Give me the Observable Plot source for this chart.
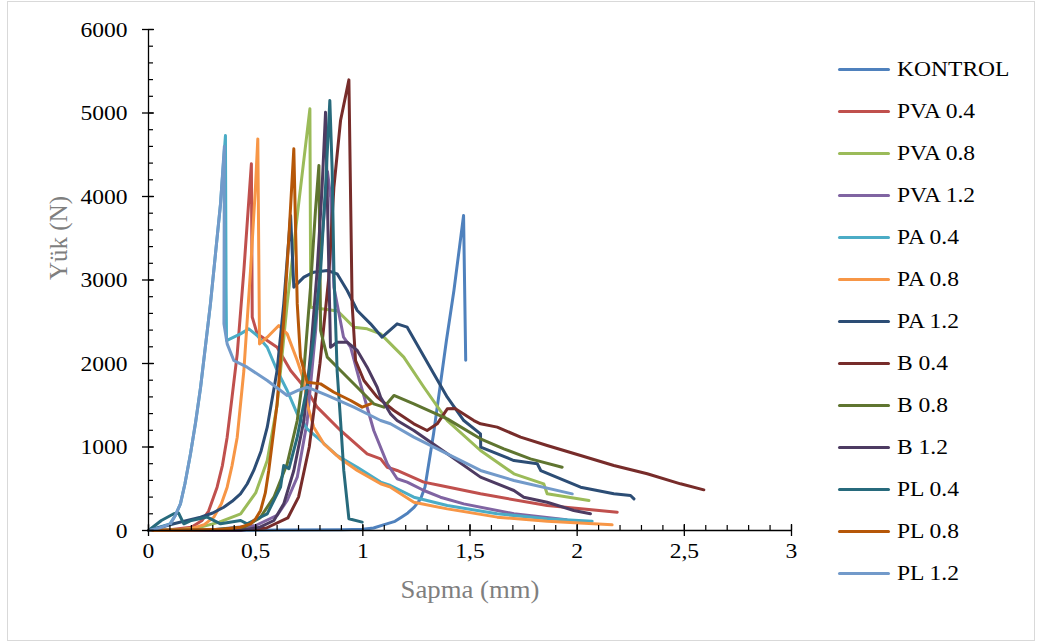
<!DOCTYPE html>
<html>
<head>
<meta charset="utf-8">
<script src="https://cdn.jsdelivr.net/npm/d3@7"></script>
<script src="https://cdn.jsdelivr.net/npm/@observablehq/plot@0.6"></script>
<style>
  body { margin: 0; background: #fff; }
  #wrap { position: relative; width: 1041px; height: 644px; overflow: hidden; }
  #frame { position: absolute; left: 7px; top: 1px; width: 1028px; height: 640px; border: 1px solid #D9D9D9; box-sizing: border-box; }
  #chart { position: absolute; left: 0; top: 0; }
  .leg { position: absolute; left: 838px; height: 26px; display: flex; align-items: center; font-family: "Liberation Serif", "Times New Roman", serif; font-size: 22px; color: #000; white-space: nowrap; }
  .leg .sw { display: inline-block; width: 52px; height: 3px; border-radius: 1.5px; }
  .leg .tx { display: inline-block; margin-left: 7px; transform: scaleX(1.07); transform-origin: left center; }
</style>
</head>
<body>
<div id="wrap"><div id="frame"></div><div id="chart"></div></div>
<script>
// ---- data (Sapma mm, Yük N) ----
const seriesNames = ["KONTROL","PVA 0.4","PVA 0.8","PVA 1.2","PA 0.4","PA 0.8","PA 1.2","B 0.4","B 0.8","B 1.2","PL 0.4","PL 0.8","PL 1.2"];
const seriesColors = ["#4F81BD","#C0504D","#9BBB59","#8064A2","#4BACC6","#F79646","#2C4D75","#772C2A","#5F7530","#4D3B62","#276A7C","#B65708","#729ACA"];

const kontrol = [[0,0],[0.3,0],[0.6,5],[0.9,10],[1.0,15],[1.05,30],[1.1,70],[1.15,110],[1.18,160],[1.21,210],[1.24,280],[1.27,380],[1.29,520],[1.30,680],[1.33,1160],[1.36,1716],[1.39,2275],[1.425,2874],[1.47,3772],[1.48,2040]];
const pva04 = [[0,0],[0.1,10],[0.2,40],[0.25,120],[0.28,230],[0.32,519],[0.345,780],[0.367,1118],[0.39,1600],[0.414,2116],[0.445,3114],[0.48,4391],[0.484,2555],[0.507,2355],[0.6,2195],[0.663,1916],[0.74,1677],[0.787,1477],[0.896,1198],[1.02,918],[1.083,858],[1.114,758],[1.16,719],[1.284,579],[1.362,539],[1.549,439],[1.86,299],[2.187,219]];
const pva08 = [[0,0],[0.15,10],[0.243,40],[0.33,100],[0.43,200],[0.5,450],[0.554,838],[0.6,1500],[0.647,2714],[0.7,3900],[0.753,5050],[0.757,2674],[0.865,2635],[0.88,2635],[0.958,2435],[1.02,2415],[1.083,2355],[1.191,2076],[1.285,1716],[1.394,1317],[1.549,958],[1.705,679],[1.844,559],[1.86,439],[2.055,359]];
const pva12 = [[0,0],[0.3,10],[0.5,60],[0.6,180],[0.647,359],[0.694,639],[0.74,1300],[0.78,2400],[0.81,3500],[0.835,4300],[0.85,3990],[0.865,2914],[0.91,2315],[0.943,2195],[0.989,1756],[1.051,1198],[1.114,799],[1.16,620],[1.207,580],[1.285,479],[1.362,399],[1.471,319],[1.705,200],[1.95,130]];
const pa04 = [[0,0],[0.05,40],[0.1,80],[0.125,180],[0.149,319],[0.17,560],[0.196,918],[0.22,1300],[0.243,1716],[0.289,2714],[0.336,3912],[0.359,4730],[0.362,2900],[0.364,2275],[0.429,2355],[0.468,2415],[0.507,2335],[0.554,2195],[0.6,1916],[0.647,1677],[0.694,1397],[0.74,1218],[0.803,1078],[0.88,898],[0.974,758],[1.083,580],[1.129,539],[1.238,399],[1.394,299],[1.627,200],[1.86,140],[2.07,112]];
const pa08 = [[0,0],[0.1,5],[0.196,20],[0.26,70],[0.305,160],[0.34,320],[0.367,519],[0.39,780],[0.414,1118],[0.445,1916],[0.476,3114],[0.499,4111],[0.51,4690],[0.518,2235],[0.554,2315],[0.608,2455],[0.647,2355],[0.694,2036],[0.725,1796],[0.74,1517],[0.771,1237],[0.818,1038],[0.896,858],[0.974,719],[1.083,560],[1.129,519],[1.238,339],[1.394,259],[1.627,160],[1.86,112],[2.163,68]];
const pa12 = [[0,0],[0.118,80],[0.243,160],[0.3,210],[0.351,279],[0.39,350],[0.429,439],[0.461,560],[0.491,719],[0.525,950],[0.554,1237],[0.6,1916],[0.631,2714],[0.663,3772],[0.678,2914],[0.725,3034],[0.771,3094],[0.834,3114],[0.88,3074],[0.927,2874],[0.974,2635],[1.036,2475],[1.09,2315],[1.16,2475],[1.207,2435],[1.269,2156],[1.331,1876],[1.394,1597],[1.471,1317],[1.549,1158],[1.55,998],[1.705,838],[1.814,799],[1.83,718],[2.016,519],[2.171,439],[2.249,419],[2.265,379]];
const b04 = [[0,0],[0.4,5],[0.55,30],[0.65,150],[0.7,400],[0.75,1000],[0.8,2000],[0.84,3000],[0.865,4111],[0.896,4910],[0.935,5397],[0.95,2714],[0.966,2036],[1.005,1796],[1.067,1597],[1.145,1437],[1.238,1278],[1.3,1198],[1.347,1278],[1.394,1457],[1.43,1460],[1.518,1317],[1.549,1278],[1.627,1238],[1.736,1118],[1.86,1018],[2.016,898],[2.171,779],[2.327,679],[2.482,559],[2.591,487]];
const b08 = [[0,0],[0.3,10],[0.445,40],[0.52,150],[0.585,399],[0.647,799],[0.694,1317],[0.725,1916],[0.756,2914],[0.779,3832],[0.795,4371],[0.803,2395],[0.834,2076],[0.896,1916],[0.974,1716],[1.051,1517],[1.098,1477],[1.145,1617],[1.238,1517],[1.394,1337],[1.549,1098],[1.658,978],[1.782,858],[1.93,758]];
const b12 = [[0,0],[0.43,0],[0.52,40],[0.585,120],[0.631,319],[0.678,719],[0.725,1317],[0.756,2116],[0.787,3114],[0.81,4111],[0.826,5010],[0.849,2195],[0.88,2255],[0.927,2255],[0.974,2156],[1.02,1956],[1.067,1716],[1.083,1597],[1.129,1397],[1.16,1317],[1.238,1198],[1.394,918],[1.549,639],[1.705,479],[1.751,399],[1.86,339],[1.984,240],[2.062,200]];
const pl04 = [[0,0],[0.06,120],[0.118,200],[0.14,210],[0.165,80],[0.2,120],[0.274,160],[0.336,80],[0.43,120],[0.46,80],[0.554,200],[0.616,519],[0.631,779],[0.655,739],[0.694,1118],[0.74,1716],[0.771,2315],[0.803,3114],[0.826,4111],[0.846,5150],[0.857,4310],[0.865,3114],[0.88,1916],[0.896,1317],[0.911,719],[0.935,140],[0.997,100]];
const pl08 = [[0,0],[0.2,5],[0.35,15],[0.43,40],[0.476,80],[0.5,140],[0.523,240],[0.545,450],[0.561,719],[0.6,1517],[0.631,2515],[0.655,3513],[0.678,4571],[0.694,2714],[0.709,2076],[0.74,1776],[0.803,1756],[0.865,1656],[0.943,1557],[0.997,1477],[1.036,1517]];
const pl12 = [[0,0],[0.05,30],[0.103,80],[0.125,180],[0.149,319],[0.17,560],[0.196,918],[0.22,1300],[0.243,1716],[0.289,2714],[0.336,3912],[0.354,4600],[0.352,2475],[0.367,2235],[0.398,2036],[0.46,1956],[0.554,1796],[0.647,1617],[0.7,1680],[0.74,1716],[0.834,1617],[0.958,1477],[1.083,1317],[1.129,1278],[1.238,1118],[1.394,918],[1.549,719],[1.705,599],[1.977,439]];

const seriesData = [kontrol,pva04,pva08,pva12,pa04,pa08,pa12,b04,b08,b12,pl04,pl08,pl12];
const xMajor = [0,0.5,1,1.5,2,2.5,3];
const xMinor = d3.range(0, 31).map(i => i / 10);
const yMajor = [0,1000,2000,3000,4000,5000,6000];
const yMinor = d3.range(0, 6001, 200);
const xLabel = "Sapma (mm)";
const yLabel = "Yük (N)";

const rows = [];
seriesData.forEach((arr, i) => arr.forEach(([x, y]) => rows.push({s: seriesNames[i], x, y})));

const fmtX = d => String(d).replace(".", ",");

const chart = Plot.plot({
  width: 1041,
  height: 644,
  marginLeft: 148,
  marginRight: 250,
  marginTop: 29,
  marginBottom: 114,
  style: { fontFamily: "'Liberation Serif', 'Times New Roman', serif", fontSize: "22px", background: "transparent", color: "#000" },
  x: { domain: [0, 3] },
  y: { domain: [0, 6000] },
  color: { domain: seriesNames, range: seriesColors },
  marks: [
    Plot.line(rows, { x: "x", y: "y", z: "s", stroke: "s", strokeWidth: 3, strokeLinejoin: "round", strokeLinecap: "round" }),
    Plot.ruleX([0], { stroke: "#000", strokeWidth: 1.3 }),
    Plot.ruleY([0], { stroke: "#000", strokeWidth: 1.3 }),
    // y ticks
    Plot.axisY({ ticks: yMinor, tickSize: 5, dx: 5, tickFormat: () => "", label: null, strokeWidth: 1.2 }),
    Plot.axisY({ ticks: yMajor, tickSize: 12, dx: 6, tickFormat: () => "", label: null, strokeWidth: 1.3 }),
    Plot.axisY({ ticks: yMajor, tickSize: 0, tickPadding: 21, tickFormat: d => String(d), label: null, fontSize: 22 }),
    // x ticks
    Plot.axisX({ ticks: xMinor, tickSize: 5, dy: -5, tickFormat: () => "", label: null, strokeWidth: 1.2 }),
    Plot.axisX({ ticks: xMajor, tickSize: 12, dy: -6, tickFormat: () => "", label: null, strokeWidth: 1.3 }),
    Plot.axisX({ ticks: xMajor, tickSize: 0, tickPadding: 12, tickFormat: fmtX, label: null, fontSize: 22 }),
    // axis titles
    Plot.text([xLabel], { text: d => d, frameAnchor: "bottom", dy: 67, fontSize: 25, fill: "#7F7F7F" }),
    Plot.text([yLabel], { text: d => d, frameAnchor: "left", dx: -90, rotate: -90, fontSize: 25, fill: "#7F7F7F" })
  ]
});

document.getElementById("chart").appendChild(chart);

// Reference text is slightly wide; mimic it on horizontal texts
chart.querySelectorAll("text").forEach(t => {
  if ((t.getAttribute("transform") || "").includes("rotate")) return;
  const L = t.getComputedTextLength();
  if (L > 0) {
    t.setAttribute("textLength", (L * 1.07).toFixed(1));
    t.setAttribute("lengthAdjust", "spacingAndGlyphs");
  }
});

// legend
const wrap = document.getElementById("wrap");
seriesNames.forEach((name, i) => {
  const d = document.createElement("div");
  d.className = "leg";
  d.style.top = (69 + 42 * i - 13) + "px";
  const sw = document.createElement("span");
  sw.className = "sw";
  sw.style.background = seriesColors[i];
  const tx = document.createElement("span");
  tx.className = "tx";
  tx.textContent = name;
  d.appendChild(sw);
  d.appendChild(tx);
  wrap.appendChild(d);
});
</script>
</body>
</html>
